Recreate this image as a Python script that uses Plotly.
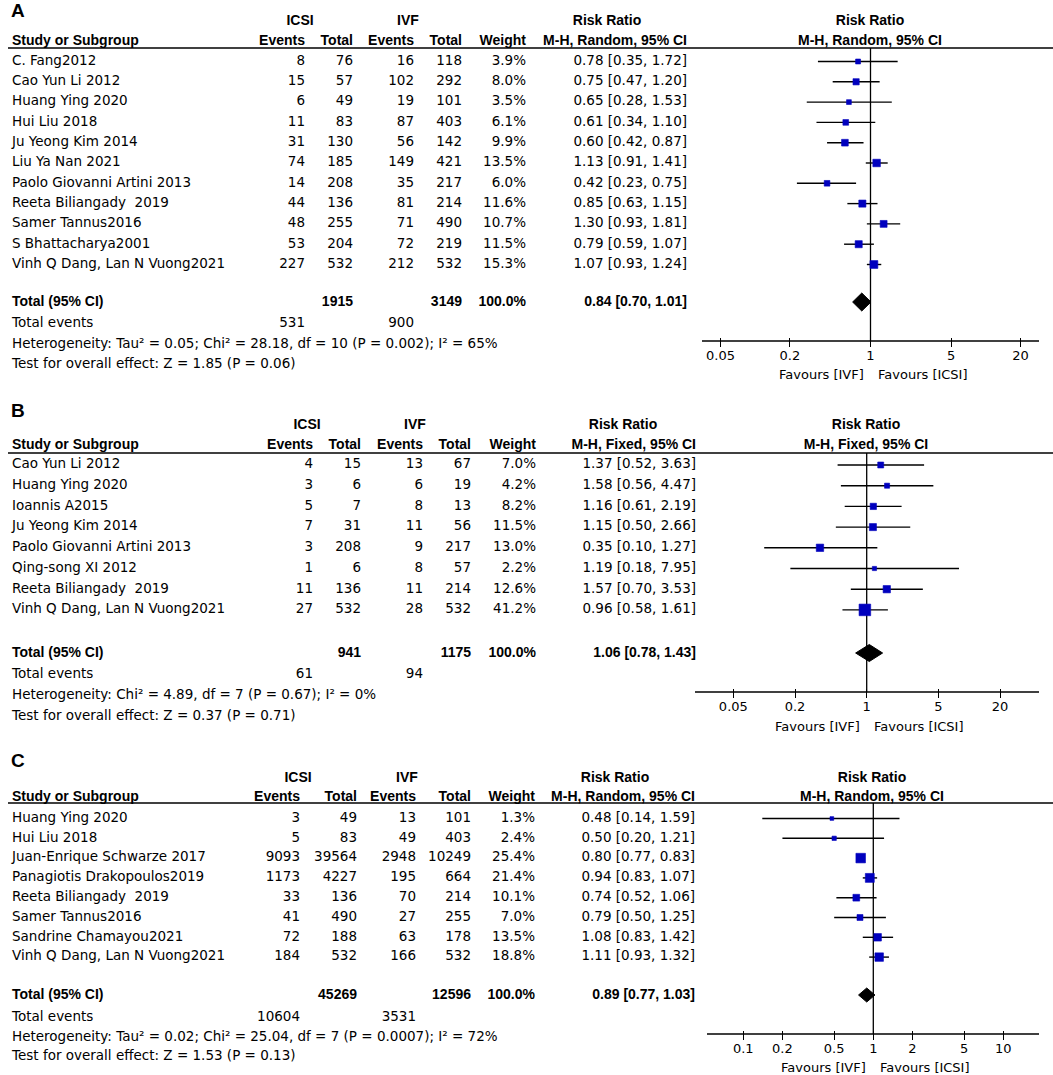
import math
import plotly.graph_objects as go

# ---------------- DATA ----------------
# Panel A
studies_a = ["C. Fang2012", "Cao Yun Li 2012", "Huang Ying 2020", "Hui Liu 2018", "Ju Yeong Kim 2014",
             "Liu Ya Nan 2021", "Paolo Giovanni Artini 2013", "Reeta Biliangady  2019", "Samer Tannus2016",
             "S Bhattacharya2001", "Vinh Q Dang, Lan N Vuong2021"]
icsi_ev_a = [8, 15, 6, 11, 31, 74, 14, 44, 48, 53, 227]
icsi_tot_a = [76, 57, 49, 83, 130, 185, 208, 136, 255, 204, 532]
ivf_ev_a = [16, 102, 19, 87, 56, 149, 35, 81, 71, 72, 212]
ivf_tot_a = [118, 292, 101, 403, 142, 421, 217, 214, 490, 219, 532]
weight_a = [3.9, 8.0, 3.5, 6.1, 9.9, 13.5, 6.0, 11.6, 10.7, 11.5, 15.3]
rr_a = [0.78, 0.75, 0.65, 0.61, 0.60, 1.13, 0.42, 0.85, 1.30, 0.79, 1.07]
lo_a = [0.35, 0.47, 0.28, 0.34, 0.42, 0.91, 0.23, 0.63, 0.93, 0.59, 0.93]
hi_a = [1.72, 1.20, 1.53, 1.10, 0.87, 1.41, 0.75, 1.15, 1.81, 1.07, 1.24]
total_a = [1915, 3149, 0.84, 0.70, 1.01]
events_a = [531, 900]
het_a = "Heterogeneity: Tau² = 0.05; Chi² = 28.18, df = 10 (P = 0.002); I² = 65%"
test_a = "Test for overall effect: Z = 1.85 (P = 0.06)"
method_a = "M-H, Random, 95% CI"

# Panel B
studies_b = ["Cao Yun Li 2012", "Huang Ying 2020", "Ioannis A2015", "Ju Yeong Kim 2014",
             "Paolo Giovanni Artini 2013", "Qing-song XI 2012", "Reeta Biliangady  2019",
             "Vinh Q Dang, Lan N Vuong2021"]
icsi_ev_b = [4, 3, 5, 7, 3, 1, 11, 27]
icsi_tot_b = [15, 6, 7, 31, 208, 6, 136, 532]
ivf_ev_b = [13, 6, 8, 11, 9, 8, 11, 28]
ivf_tot_b = [67, 19, 13, 56, 217, 57, 214, 532]
weight_b = [7.0, 4.2, 8.2, 11.5, 13.0, 2.2, 12.6, 41.2]
rr_b = [1.37, 1.58, 1.16, 1.15, 0.35, 1.19, 1.57, 0.96]
lo_b = [0.52, 0.56, 0.61, 0.50, 0.10, 0.18, 0.70, 0.58]
hi_b = [3.63, 4.47, 2.19, 2.66, 1.27, 7.95, 3.53, 1.61]
total_b = [941, 1175, 1.06, 0.78, 1.43]
events_b = [61, 94]
het_b = "Heterogeneity: Chi² = 4.89, df = 7 (P = 0.67); I² = 0%"
test_b = "Test for overall effect: Z = 0.37 (P = 0.71)"
method_b = "M-H, Fixed, 95% CI"

# Panel C
studies_c = ["Huang Ying 2020", "Hui Liu 2018", "Juan-Enrique Schwarze 2017", "Panagiotis Drakopoulos2019",
             "Reeta Biliangady  2019", "Samer Tannus2016", "Sandrine Chamayou2021",
             "Vinh Q Dang, Lan N Vuong2021"]
icsi_ev_c = [3, 5, 9093, 1173, 33, 41, 72, 184]
icsi_tot_c = [49, 83, 39564, 4227, 136, 490, 188, 532]
ivf_ev_c = [13, 49, 2948, 195, 70, 27, 63, 166]
ivf_tot_c = [101, 403, 10249, 664, 214, 255, 178, 532]
weight_c = [1.3, 2.4, 25.4, 21.4, 10.1, 7.0, 13.5, 18.8]
rr_c = [0.48, 0.50, 0.80, 0.94, 0.74, 0.79, 1.08, 1.11]
lo_c = [0.14, 0.20, 0.77, 0.83, 0.52, 0.50, 0.83, 0.93]
hi_c = [1.59, 1.21, 0.83, 1.07, 1.06, 1.25, 1.42, 1.32]
total_c = [45269, 12596, 0.89, 0.77, 1.03]
events_c = [10604, 3531]
het_c = "Heterogeneity: Tau² = 0.02; Chi² = 25.04, df = 7 (P = 0.0007); I² = 72%"
test_c = "Test for overall effect: Z = 1.53 (P = 0.13)"
method_c = "M-H, Random, 95% CI"

ticks_ab = [0.05, 0.2, 1, 5, 20]
ticklabels_ab = ["0.05", "0.2", "1", "5", "20"]
ticks_c = [0.1, 0.2, 0.5, 1, 2, 5, 10]
ticklabels_c = ["0.1", "0.2", "0.5", "1", "2", "5", "10"]

# ---------------- LAYOUT (pixel geometry) ----------------
W, H = 1053, 1075
FONT = "DejaVu Sans, Verdana, sans-serif"
BFONT = "Liberation Sans, Arial, sans-serif"
BLUE = "#0000BE"
RS = 13.5   # regular text size
BS = 14     # bold text size
LX = 12     # left text edge

panels = [
    dict(label="A", studies=studies_a, ie=icsi_ev_a, it=icsi_tot_a, ve=ivf_ev_a, vt=ivf_tot_a,
         w=weight_a, rr=rr_a, lo=lo_a, hi=hi_a, tot=total_a, ev=events_a, het=het_a, test=test_a,
         method=method_a, tv=ticks_ab, tt=ticklabels_ab,
         title_y=12, h1=21, h2=41, line_y=48, row0=61.5, pitch=20.3, tot_y=302, ev_y=324, het_y=345,
         test_y=365, axis_y=341, fav_y=374, dh=9,
         cols=[305, 353, 414, 462, 526, 687], hc=[300, 408, 607],
         fc=870.5, dec=115.3, fx0=702, fx1=1039, fhx=870),
    dict(label="B", studies=studies_b, ie=icsi_ev_b, it=icsi_tot_b, ve=ivf_ev_b, vt=ivf_tot_b,
         w=weight_b, rr=rr_b, lo=lo_b, hi=hi_b, tot=total_b, ev=events_b, het=het_b, test=test_b,
         method=method_b, tv=ticks_ab, tt=ticklabels_ab,
         title_y=412, h1=425, h2=445, line_y=453, row0=465, pitch=20.7, tot_y=653, ev_y=675, het_y=696,
         test_y=717, axis_y=692, fav_y=726, dh=8.5,
         cols=[313, 361, 423, 471, 536, 696], hc=[307, 415, 623],
         fc=866.7, dec=102.5, fx0=695, fx1=1039, fhx=866),
    dict(label="C", studies=studies_c, ie=icsi_ev_c, it=icsi_tot_c, ve=ivf_ev_c, vt=ivf_tot_c,
         w=weight_c, rr=rr_c, lo=lo_c, hi=hi_c, tot=total_c, ev=events_c, het=het_c, test=test_c,
         method=method_c, tv=ticks_c, tt=ticklabels_c,
         title_y=762, h1=778, h2=797, line_y=803, row0=818.5, pitch=19.8, tot_y=995, ev_y=1018, het_y=1038,
         test_y=1057, axis_y=1034, fav_y=1067, dh=7,
         cols=[300, 357, 416, 471, 535, 695], hc=[298, 407, 615],
         fc=873.3, dec=130.0, fx0=707, fx1=1039, fhx=872),
]

fig = go.Figure()
shapes = []
annotations = []


def txt(xs, ys, texts, pos, bold=False, size=RS):
    if bold:
        texts = ["<b>%s</b>" % t for t in texts]
    fig.add_trace(go.Scatter(x=xs, y=ys, text=texts, mode="text", textposition=pos,
                             textfont=dict(family=BFONT if bold else FONT, size=size, color="black"),
                             hoverinfo="skip", showlegend=False, xaxis="x", yaxis="y",
                             cliponaxis=False))


layout_axes = {}
for k, p in enumerate(panels):
    n = len(p["studies"])
    ys = [p["row0"] + i * p["pitch"] for i in range(n)]
    c = p["cols"]

    # title letter
    txt([LX - 1], [p["title_y"]], [p["label"]], "middle right", bold=True, size=19)
    # headers
    txt([p["hc"][0], p["hc"][1], p["hc"][2]], [p["h1"]] * 3, ["ICSI", "IVF", "Risk Ratio"],
        "middle center", bold=True, size=BS)
    txt([LX], [p["h2"]], ["Study or Subgroup"], "middle right", bold=True, size=BS)
    txt(c, [p["h2"]] * 6, ["Events", "Total", "Events", "Total", "Weight", p["method"]],
        "middle left", bold=True, size=BS)
    txt([p["fhx"]], [p["h1"]], ["Risk Ratio"], "middle center", bold=True, size=BS)
    txt([p["fhx"]], [p["h2"]], [p["method"]], "middle center", bold=True, size=BS)

    shapes.append(dict(type="line", xref="x", yref="y", x0=8, x1=W, y0=p["line_y"], y1=p["line_y"],
                       line=dict(color="black", width=1.5)))

    # study rows
    txt([LX] * n, ys, p["studies"], "middle right")
    txt([c[0]] * n, ys, [str(v) for v in p["ie"]], "middle left")
    txt([c[1]] * n, ys, [str(v) for v in p["it"]], "middle left")
    txt([c[2]] * n, ys, [str(v) for v in p["ve"]], "middle left")
    txt([c[3]] * n, ys, [str(v) for v in p["vt"]], "middle left")
    txt([c[4]] * n, ys, ["%.1f%%" % v for v in p["w"]], "middle left")
    txt([c[5]] * n, ys, ["%.2f [%.2f, %.2f]" % (a, b, d) for a, b, d in zip(p["rr"], p["lo"], p["hi"])],
        "middle left")

    # totals
    t = p["tot"]
    txt([LX], [p["tot_y"]], ["Total (95% CI)"], "middle right", bold=True, size=BS)
    txt([c[1], c[3], c[4], c[5]], [p["tot_y"]] * 4,
        [str(t[0]), str(t[1]), "100.0%", "%.2f [%.2f, %.2f]" % (t[2], t[3], t[4])], "middle left",
        bold=True, size=BS)
    txt([LX], [p["ev_y"]], ["Total events"], "middle right")
    txt([c[0], c[2]], [p["ev_y"]] * 2, [str(p["ev"][0]), str(p["ev"][1])], "middle left")
    txt([LX], [p["het_y"]], [p["het"]], "middle right")
    txt([LX], [p["test_y"]], [p["test"]], "middle right")

    # forest axis
    ax = "x%d" % (k + 2)
    axkey = "xaxis%d" % (k + 2)
    r0 = (p["fx0"] - p["fc"]) / p["dec"]
    r1 = (p["fx1"] - p["fc"]) / p["dec"]
    layout_axes[axkey] = dict(type="log", range=[r0, r1], domain=[p["fx0"] / W, p["fx1"] / W],
                              anchor="free", position=1 - (p["axis_y"] - 4.5) / H,
                              showgrid=False, zeroline=False, showline=False,
                              ticks="outside", ticklen=9, tickwidth=1.3, tickcolor="black",
                              tickvals=p["tv"], ticktext=p["tt"], ticklabelstandoff=-2,
                              tickfont=dict(family=FONT, size=13, color="black"),
                              fixedrange=True)
    shapes.append(dict(type="line", xref=ax + " domain", yref="y", x0=0, x1=1,
                       y0=p["axis_y"], y1=p["axis_y"], line=dict(color="black", width=1.3)))

    # reference line at 1
    fig.add_trace(go.Scatter(x=[1, 1], y=[p["line_y"], p["axis_y"]], mode="lines",
                             line=dict(color="black", width=1.3), xaxis=ax, yaxis="y",
                             hoverinfo="skip", showlegend=False, cliponaxis=False))
    # CI lines
    cx, cy = [], []
    for y, a, b in zip(ys, p["lo"], p["hi"]):
        cx += [a, b, None]
        cy += [y, y, None]
    fig.add_trace(go.Scatter(x=cx, y=cy, mode="lines", line=dict(color="black", width=1.4),
                             xaxis=ax, yaxis="y", hoverinfo="skip", showlegend=False))
    # squares
    fig.add_trace(go.Scatter(x=p["rr"], y=ys, mode="markers",
                             marker=dict(symbol="square", color=BLUE, opacity=1,
                                         size=[2.0 + 1.5 * math.sqrt(v) for v in p["w"]],
                                         line=dict(width=0.6, color=BLUE)),
                             xaxis=ax, yaxis="y", hoverinfo="skip", showlegend=False))
    # diamond
    ty = p["tot_y"]
    fig.add_trace(go.Scatter(x=[t[3], t[2], t[4], t[2], t[3]],
                             y=[ty, ty - p["dh"], ty, ty + p["dh"], ty],
                             mode="lines", fill="toself", fillcolor="black",
                             line=dict(color="black", width=1), xaxis=ax, yaxis="y",
                             hoverinfo="skip", showlegend=False))
    # favours labels
    annotations.append(dict(xref=ax, yref="y", x=0, y=p["fav_y"], text="Favours [IVF]",
                            xanchor="right", yanchor="middle", xshift=-5, showarrow=False,
                            font=dict(family=FONT, size=13, color="black")))
    annotations.append(dict(xref=ax, yref="y", x=0, y=p["fav_y"], text="Favours [ICSI]",
                            xanchor="left", yanchor="middle", xshift=5, showarrow=False,
                            font=dict(family=FONT, size=13, color="black")))

fig.update_layout(
    width=W, height=H, margin=dict(l=0, r=0, t=0, b=0),
    paper_bgcolor="white", plot_bgcolor="rgba(0,0,0,0)",
    xaxis=dict(range=[0, W], domain=[0, 1], visible=False, fixedrange=True),
    yaxis=dict(range=[H, 0], domain=[0, 1], visible=False, fixedrange=True),
    shapes=shapes, annotations=annotations, showlegend=False,
    **layout_axes,
)

fig.write_html("out.html", config={"displayModeBar": False},
               post_script="document.body.style.margin='0';document.body.style.overflow='hidden';")
